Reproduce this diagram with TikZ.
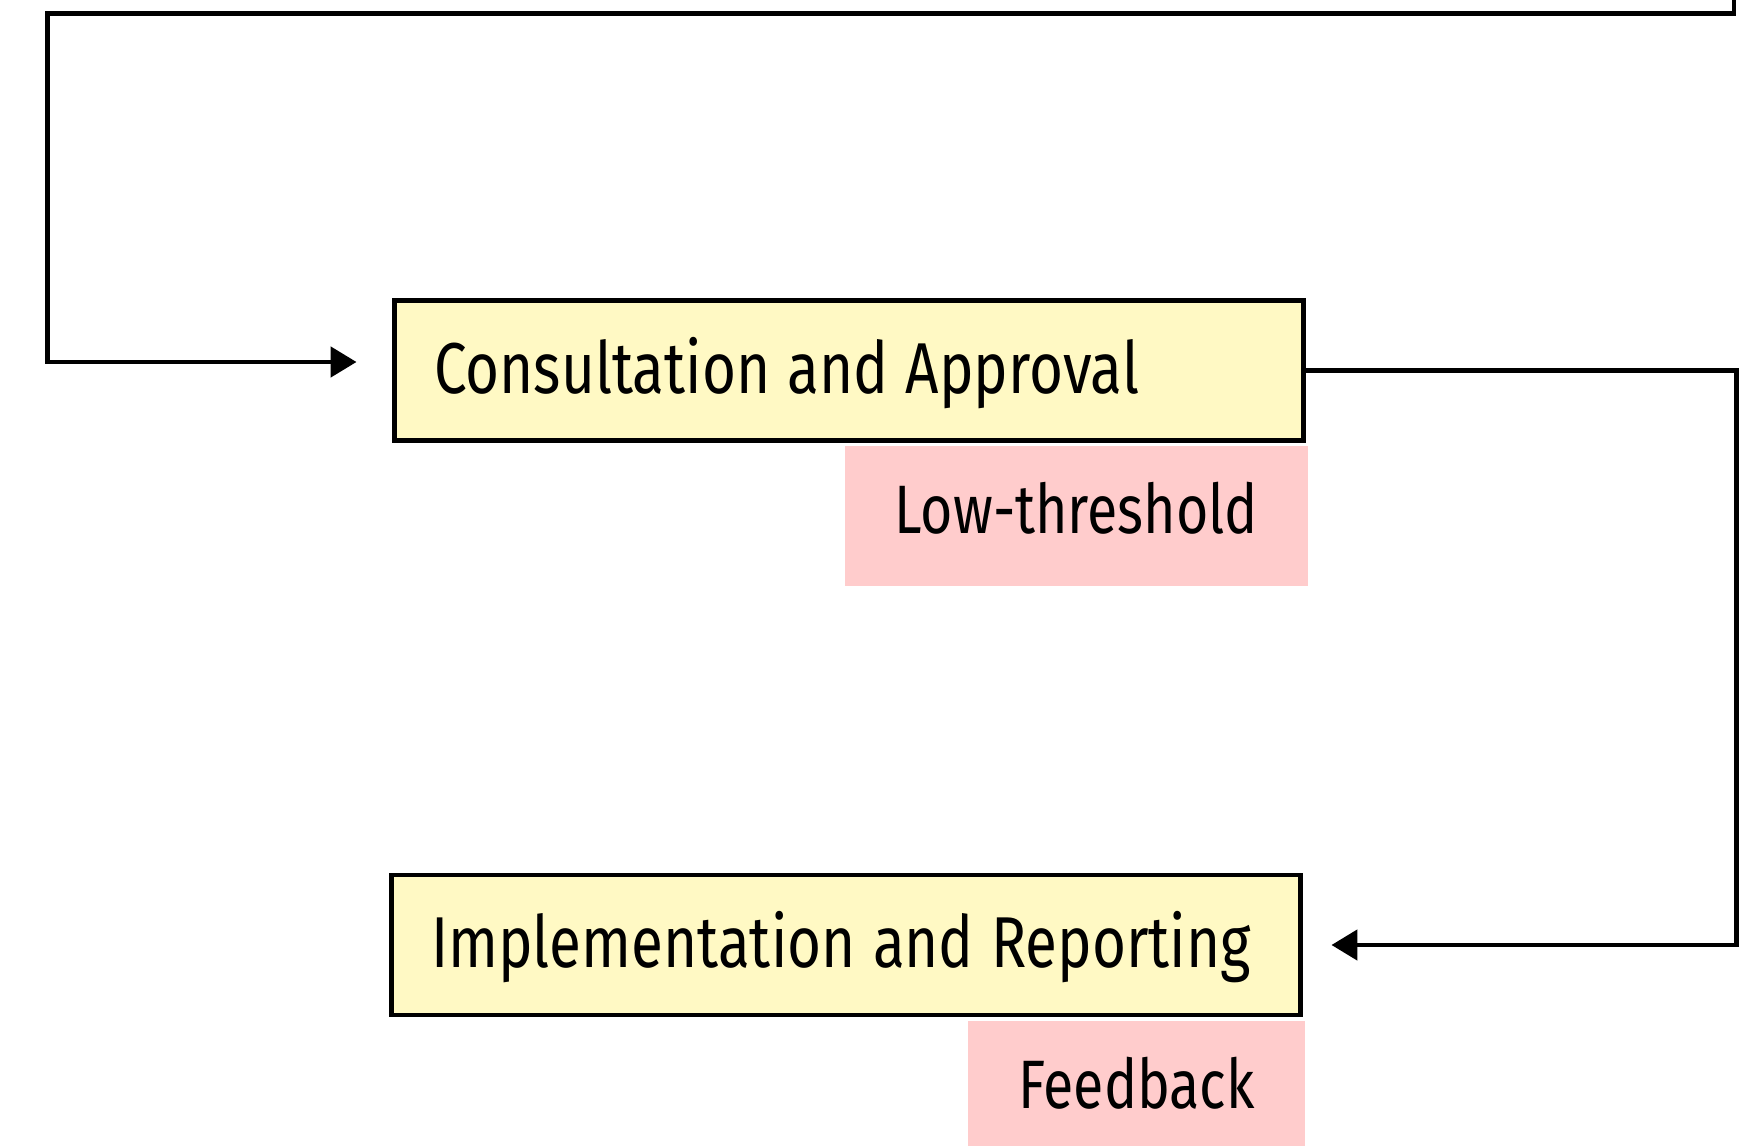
\documentclass[tikz,border=0pt]{standalone}
\usepackage{fontspec}
\setmainfont[FakeStretch=0.81]{Fira Sans}
\usetikzlibrary{arrows.meta,positioning}
\definecolor{stageyellow}{RGB}{255,249,196}
\definecolor{tagpink}{RGB}{255,204,204}
\tikzset{
    stagebox/.style={draw=black, line width=1.4pt, fill=stageyellow, inner xsep=0.395cm, minimum height=1.4cm,
        text height=0.45cm, text depth=0cm, font=\fontsize{20.5}{24}\selectfont,
        execute at begin node={\spaceskip 0.24em\relax\hbox to 8.3cm\bgroup}, execute at end node={\hfil\egroup}},
    tagbox/.style={fill=tagpink, inner xsep=0.5cm, minimum height=1.4cm, text height=0.35cm, text depth=0cm,
        anchor=north east, font=\fontsize{19.5}{23}\selectfont},
    flow/.style={line width=1.4pt, -{Triangle[length=0.26cm,width=0.30cm]}}
}
\begin{document}
\begin{tikzpicture}
    \useasboundingbox (0,0) rectangle (17.57,-11.46);
    \clip (0,0) rectangle (17.57,-11.46);
    \node[stagebox] (consult) at (8.49,-3.705) {Consultation and Approval};
    \node[tagbox] (lowthr) at ([shift={(0.025,-0.025)}]consult.south east) {Low-threshold};
    \node[stagebox] (implement) at (8.46,-9.45) {Implementation and Reporting};
    \node[tagbox] (feedback) at ([shift={(0.025,-0.025)}]implement.south east) {Feedback};
    \coordinate (topin) at (17.34,0.5);
    \coordinate (topleft) at (0.475,-0.135);
    \coordinate (consultin) at ([yshift=0.085cm]consult.west);
    \draw[flow, shorten >=0.355cm] (topin) |- (topleft) |- (consultin);
    \draw[flow, shorten >=0.285cm] (consult.east) -- ++(4.305,0) |- (implement.east);
\end{tikzpicture}
\end{document}
